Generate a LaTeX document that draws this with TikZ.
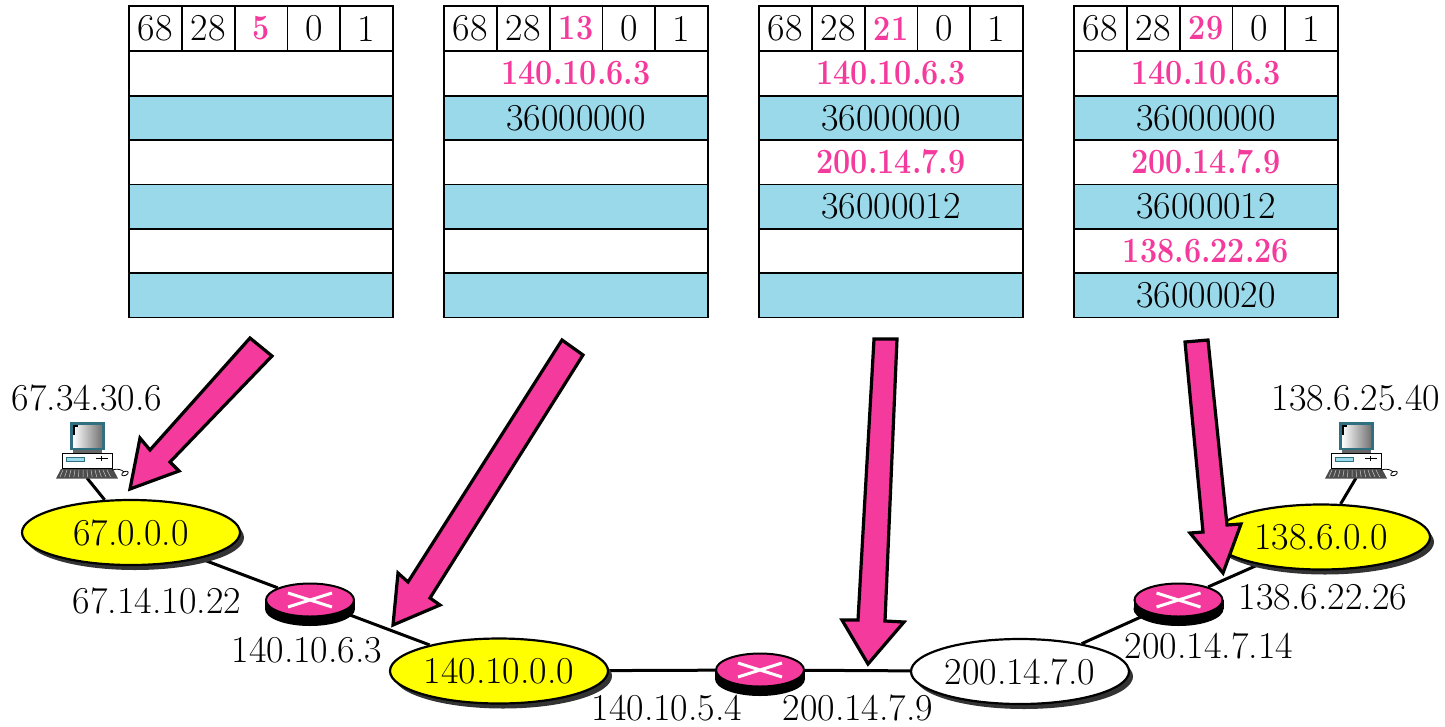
\documentclass[tikz,border=0pt]{standalone}
\usepackage{fontspec}
\usepackage{graphicx}
\usetikzlibrary{shapes.geometric,shadows,backgrounds}
\definecolor{hotpink}{HTML}{F43A9C}
\definecolor{pktblue}{HTML}{9AD9EA}
\definecolor{netyellow}{HTML}{FFFF00}
\definecolor{pcteal}{HTML}{2F6F7F}
\newcommand{\bigtxt}{\fontsize{38}{44}\selectfont}
\tikzset{
  lbl/.style={inner sep=0pt,font=\bigtxt},
  cellbox/.style={draw=black,line width=1.8pt,inner sep=0pt,minimum width=52.8pt,minimum height=45pt,font=\bigtxt},
  rowwhite/.style={draw=black,line width=1.8pt,inner sep=0pt,minimum width=264.5pt,minimum height=44.4pt,fill=white,font=\bigtxt},
  rowblue/.style={rowwhite,fill=pktblue},
  net/.style={ellipse,draw=black,line width=2.2pt,inner sep=0pt,minimum width=218pt,minimum height=65pt,font=\bigtxt,
    drop shadow={shadow xshift=4pt,shadow yshift=-5pt,fill=black!80,opacity=1}},
  routertop/.style={ellipse,draw=black,line width=2pt,fill=hotpink,inner sep=0pt,minimum width=88pt,minimum height=33pt},
  linkline/.style={line width=3pt,black},
  blockarrow/.style={draw=black,fill=hotpink,line width=3.2pt,miter limit=10,line join=miter},
}
\newcommand{\hott}[1]{\textcolor{hotpink}{\scalebox{.86}[1]{\fontsize{35.5}{40}\selectfont\bfseries #1}}}
\newcommand{\pkt}[9]{%
  \node[cellbox] (#1a) at (#2+26.4,28.5) {68};
  \node[cellbox] (#1b) at (#2+79.2,28.5) {28};
  \node[cellbox] (#1c) at (#2+132,28.5) {\hott{#3}};
  \node[cellbox] (#1d) at (#2+184.8,28.5) {0};
  \node[cellbox] (#1e) at (#2+237.6,28.5) {1};
  \node[rowwhite] (#1r1) at (#2+132,73.4) {#4};
  \node[rowblue]  (#1r2) at (#2+132,117.8) {#5};
  \node[rowwhite] (#1r3) at (#2+132,162.2) {#6};
  \node[rowblue]  (#1r4) at (#2+132,206.6) {#7};
  \node[rowwhite] (#1r5) at (#2+132,251) {#8};
  \node[rowblue]  (#1r6) at (#2+132,295.2) {#9};
}
\newcommand{\router}[3]{%
  \fill[black] (#2,#3+9) ellipse [x radius=45,y radius=17];
  \fill[black] (#2-45,#3) rectangle (#2+45,#3+9);
  \node[routertop] (#1) at (#2,#3) {};
  \draw[white,line width=3pt] (#2-22,#3+7) -- (#2+22,#3-7) (#2-22,#3-7) -- (#2+22,#3+7);
}
\newcommand{\computer}[2]{%
  \begin{scope}[shift={(#1,0)}]
    \fill[black!70] (56,478.5) -- (61,469) -- (113,469) -- (118,478.5) -- cycle;
    \foreach \k in {0,...,11} \draw[white!80!black,line width=.5pt] (60+\k*4.6,477) -- (63+\k*4,470);
    \draw[black,fill=white,line width=1pt] (62.5,453) rectangle (112.5,468);
    \draw[pcteal,fill=pktblue,line width=.7pt] (66.5,457) rectangle (84,461);
    \draw[black,line width=1pt] (96,458.5) -- (108,458.5) (101,456) -- (101,461);
    \draw[black,line width=.8pt] (112,470) .. controls (118,468) and (122,470) .. (124,472);
    \draw[black,fill=white,line width=.8pt,rotate around={25:(125,473.5)}] (125,473.5) ellipse [x radius=3.5,y radius=2];
    \fill[black!60] (73,448) rectangle (102,453);
    \fill[pcteal] (69.5,421.5) rectangle (105,450);
    \shade[left color=white,right color=black!55] (73,425) rectangle (102,447);
    \fill[black] (73,425) rectangle (78,427);
    \fill[black] (73,425) rectangle (74.5,435);
  \end{scope}
  \coordinate (#2) at (#1+87,478);
}
\begin{document}
\begin{tikzpicture}[x=1pt,y=-1pt]
\useasboundingbox (0,0) rectangle (1445,726);
\pkt{p}{129}{5}{}{}{}{}{}{}
\pkt{q}{444}{13}{\hott{140.10.6.3}}{36000000}{}{}{}{}
\pkt{s}{759}{21}{\hott{140.10.6.3}}{36000000}{\hott{200.14.7.9}}{36000012}{}{}
\pkt{t}{1074}{29}{\hott{140.10.6.3}}{36000000}{\hott{200.14.7.9}}{36000012}{\hott{138.6.22.26}}{36000020}

\node[net,fill=netyellow] (n1) at (131,532.5) {67.0.0.0};
\node[net,fill=netyellow] (n2) at (499,671) {140.10.0.0};
\node[net,fill=white] (n3) at (1020,671.5) {200.14.7.0};
\node[net,fill=netyellow] (n4) at (1321,537) {138.6.0.0};
\router{r1}{310}{600}
\router{r2}{760}{670}
\router{r3}{1178.5}{600}
\computer{0}{pc1}
\computer{1269}{pc2}
\begin{pgfonlayer}{background}
\draw[linkline] (pc1) -- (n1);
\draw[linkline] (n1) -- (r1);
\draw[linkline] (r1) -- (n2);
\draw[linkline] (n2) -- (r2);
\draw[linkline] (r2) -- (n3);
\draw[linkline] (n3) -- (r3);
\draw[linkline] (r3) -- (n4);
\draw[linkline] (pc2) -- (n4);
\end{pgfonlayer}

\node[lbl] (l1) at (87,398) {67.34.30.6};
\node[lbl] (l2) at (157,601) {67.14.10.22};
\node[lbl] (l3) at (307,650) {140.10.6.3};
\node[lbl] (l4) at (667,708) {140.10.5.4};
\node[lbl] (l5) at (858,708) {200.14.7.9};
\node[lbl] (l6) at (1209,646) {200.14.7.14};
\node[lbl] (l7) at (1323,597) {138.6.22.26};
\node[lbl] (l8) at (1356,398) {138.6.25.40};

\draw[blockarrow] (250,338) -- (272,356) -- (170,462) -- (179,471) -- (130,489) -- (140,438) -- (150,450) -- cycle;
\draw[blockarrow] (562,340) -- (583,355) -- (430,598) -- (440,605) -- (393,625) -- (398,573) -- (408,582) -- cycle;
\draw[blockarrow] (874,339) -- (897,339) -- (885,621) -- (904,622) -- (868,664) -- (842,620) -- (858,620) -- cycle;
\draw[blockarrow] (1185,342) -- (1208,340) -- (1227,525) -- (1241,524) -- (1223,573) -- (1190,533) -- (1203,532) -- cycle;
\end{tikzpicture}
\end{document}
